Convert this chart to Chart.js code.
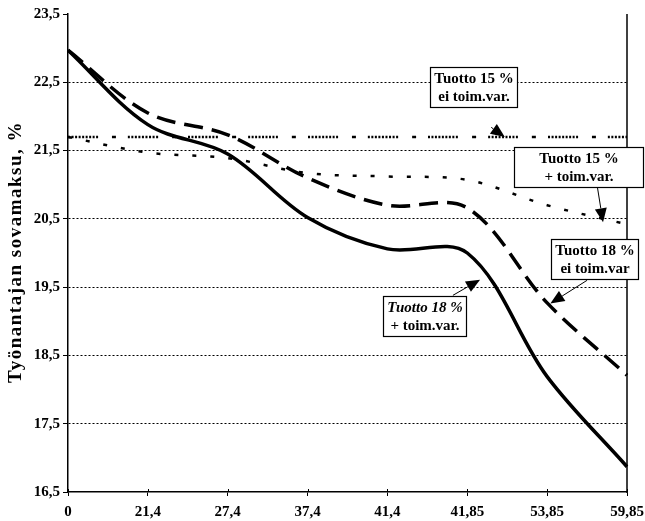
<!DOCTYPE html>
<html>
<head>
<meta charset="utf-8">
<script src="https://cdn.jsdelivr.net/npm/chart.js@4/dist/chart.umd.min.js"></script>
<style>
  html, body { margin: 0; padding: 0; background: #fff; }
  #wrap { width: 645px; height: 521px; }
</style>
</head>
<body>
<div id="wrap"><canvas id="c" width="645" height="521"></canvas></div>
<script>
// Categories on the x axis (time points)
const categories = ['0', '21,4', '27,4', '37,4', '41,4', '41,85', '53,85', '59,85'];
// Y tick values
const yTicks = [16.5, 17.5, 18.5, 19.5, 20.5, 21.5, 22.5, 23.5];
const yTitle = 'Työnantajan sovamaksu, %';

// Series: employer contribution, %
const tuotto18Toim = [22.97, 21.88, 21.45, 20.52, 20.06, 20.0, 18.19, 16.87];
const tuotto18Ei   = [22.97, 22.05, 21.73, 21.10, 20.70, 20.66, 19.27, 18.21];
const tuotto15Toim = [21.70, 21.47, 21.39, 21.17, 21.12, 21.07, 20.70, 20.42];
const tuotto15Ei   = [21.70, 21.70, 21.70, 21.70, 21.70, 21.70, 21.70, 21.70];

const serif = "'Liberation Serif', 'Times New Roman', serif";
const fmt = v => Number(v).toFixed(1).replace('.', ',');

// Callout boxes: lines of text, box centre, side padding and arrow (category index, value)
const callouts = [
  { lines: [['Tuotto 15 %', false], ['ei toim.var.', false]], cx: 5.08, cy: 22.43, padX: 4, from: [5.3, 21.84], to: [5.47, 21.70] },
  { lines: [['Tuotto 15 %', false], ['+ toim.var.', false]], cx: 6.39, cy: 21.26, padX: 25, from: [6.63, 20.96], to: [6.70, 20.45] },
  { lines: [['Tuotto 18 %', false], ['ei toim.var', false]], cx: 6.59, cy: 19.91, padX: 4, from: [6.5, 19.6], to: [6.04, 19.26] },
  { lines: [['Tuotto 18 %', true], ['+ toim.var.', false]], cx: 4.46, cy: 19.08, padX: 4, from: [4.82, 19.38], to: [5.16, 19.61] }
];

const framePlugin = {
  id: 'frame',
  afterDraw(chart) {
    const { ctx, chartArea: a, scales: { x, y } } = chart;
    ctx.save();
    // right edge of the plot frame
    ctx.strokeStyle = '#000';
    ctx.lineWidth = 1.5;
    ctx.beginPath();
    ctx.moveTo(a.right, a.top);
    ctx.lineTo(a.right, a.bottom + 1);
    ctx.stroke();

    // small tick marks crossing the x axis
    ctx.lineWidth = 1;
    categories.forEach((_, i) => {
      const px = Math.round(x.getPixelForValue(i)) + 0.5;
      ctx.beginPath();
      ctx.moveTo(px, a.bottom - 3);
      ctx.lineTo(px, a.bottom);
      ctx.stroke();
    });

    // y axis title, rotated
    ctx.save();
    ctx.translate(16, 252);
    ctx.rotate(-Math.PI / 2);
    ctx.font = 'bold 19px ' + serif;
    ctx.letterSpacing = '1.5px';
    ctx.fillStyle = '#000';
    ctx.textAlign = 'center';
    ctx.textBaseline = 'middle';
    ctx.fillText(yTitle, 0, 0);
    ctx.restore();

    ctx.textAlign = 'center';
    ctx.textBaseline = 'middle';
    const lh = 18;
    callouts.forEach(c => {
      // arrow
      const x1 = x.getPixelForValue(c.from[0]), y1 = y.getPixelForValue(c.from[1]);
      const x2 = x.getPixelForValue(c.to[0]), y2 = y.getPixelForValue(c.to[1]);
      const ang = Math.atan2(y2 - y1, x2 - x1);
      const hl = 14, hw = 6;
      const bx = x2 - hl * Math.cos(ang), by = y2 - hl * Math.sin(ang);
      ctx.strokeStyle = '#000';
      ctx.lineWidth = 1;
      ctx.beginPath();
      ctx.moveTo(x1, y1);
      ctx.lineTo(bx, by);
      ctx.stroke();
      ctx.fillStyle = '#000';
      ctx.beginPath();
      ctx.moveTo(x2, y2);
      ctx.lineTo(bx + hw * Math.sin(ang), by - hw * Math.cos(ang));
      ctx.lineTo(bx - hw * Math.sin(ang), by + hw * Math.cos(ang));
      ctx.closePath();
      ctx.fill();

      // box
      let w = 0;
      c.lines.forEach(([t, it]) => {
        ctx.font = (it ? 'italic ' : '') + 'bold 15px ' + serif;
        w = Math.max(w, ctx.measureText(t).width);
      });
      const bw = Math.round(w + 2 * c.padX), bh = c.lines.length * lh + 4;
      const cx = x.getPixelForValue(c.cx), cy = y.getPixelForValue(c.cy);
      const left = Math.round(cx - bw / 2) + 0.5, top = Math.round(cy - bh / 2) + 0.5;
      ctx.fillStyle = '#fff';
      ctx.fillRect(left, top, bw, bh);
      ctx.lineWidth = 1.2;
      ctx.strokeRect(left, top, bw, bh);
      ctx.fillStyle = '#000';
      c.lines.forEach(([t, it], i) => {
        ctx.font = (it ? 'italic ' : '') + 'bold 15px ' + serif;
        ctx.fillText(t, left + bw / 2, top + 2 + lh / 2 + i * lh + 1);
      });
    });
    ctx.restore();
  }
};

const common = { pointRadius: 0, pointHoverRadius: 0, fill: false, borderColor: '#000', tension: 0.34 };

new Chart(document.getElementById('c'), {
  type: 'line',
  data: {
    labels: categories,
    datasets: [
      { ...common, label: 'Tuotto 15 % ei toim.var.', data: tuotto15Ei, borderWidth: 2.5,
        borderDash: [2, 1.5, 2, 1.5, 2, 1.5, 2, 1.5, 2, 1.5, 2, 1.5, 2, 1.5, 2, 1.5, 2, 14, 4, 12] },
      { ...common, label: 'Tuotto 15 % + toim.var.', data: tuotto15Toim, borderWidth: 2.5, borderDash: [4, 14] },
      { ...common, label: 'Tuotto 18 % ei toim.var', data: tuotto18Ei, borderWidth: 3.5, borderDash: [19, 9] },
      { ...common, label: 'Tuotto 18 % + toim.var.', data: tuotto18Toim, borderWidth: 3.5 }
    ]
  },
  options: {
    responsive: false,
    animation: false,
    devicePixelRatio: 1,
    layout: { padding: { top: 14, right: 18, left: 4, bottom: 0 } },
    plugins: { legend: { display: false }, tooltip: { enabled: false } },
    scales: {
      x: {
        type: 'category',
        offset: false,
        grid: { drawOnChartArea: false, drawTicks: true, tickLength: 4, tickColor: '#000', lineWidth: 1 },
        border: { display: true, color: '#000', width: 1.5 },
        ticks: { color: '#000', font: { family: serif, size: 15, weight: 'bold' }, padding: 7, maxRotation: 0, autoSkip: false },
        afterFit: s => { s.height = 29; s.paddingLeft = 0; s.paddingRight = 0; }
      },
      y: {
        min: 16.5, max: 23.5,
        afterBuildTicks: s => { s.ticks = yTicks.map(v => ({ value: v })); },
        grid: {
          color: c => (c.tick && (c.tick.value === 23.5 || c.tick.value === 16.5)) ? 'rgba(0,0,0,0)' : '#000',
          lineWidth: 1, tickColor: '#000', tickLength: 5, tickBorderDash: []
        },
        border: { display: true, color: '#000', width: 1.5, dash: [2, 2] },
        ticks: { color: '#000', font: { family: serif, size: 15, weight: 'bold' }, padding: 3, callback: v => fmt(v) },
        afterFit: s => { s.width = 64; }
      }
    }
  },
  plugins: [framePlugin]
});
</script>
</body>
</html>
